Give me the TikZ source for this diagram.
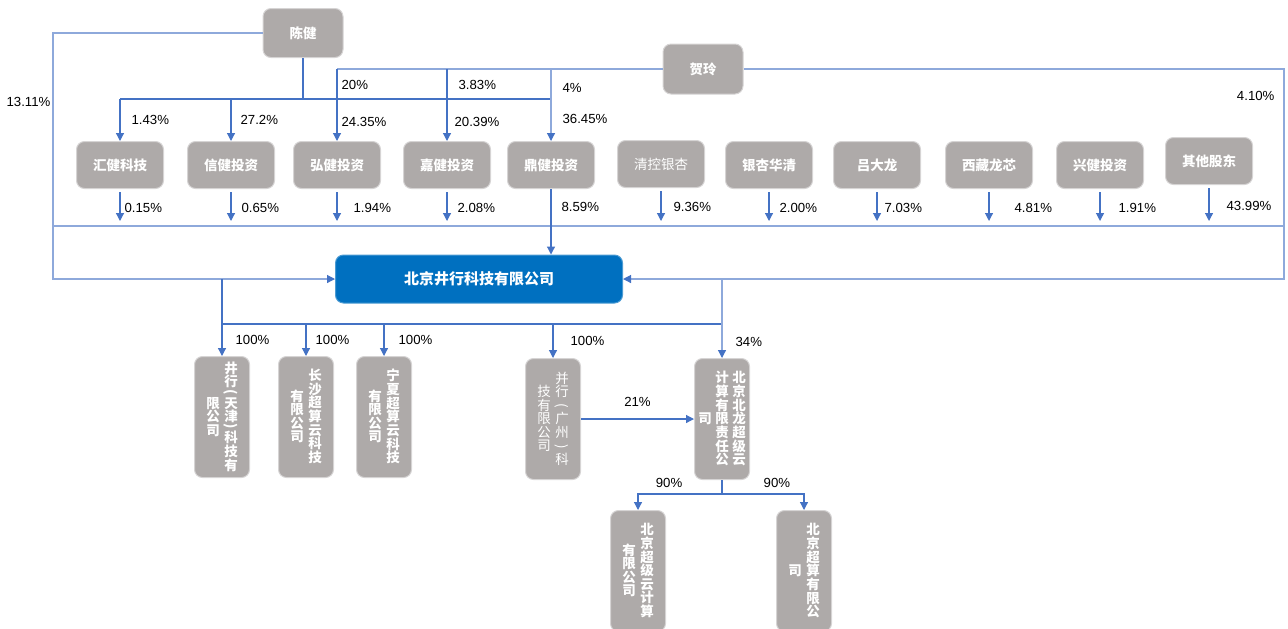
\documentclass[tikz,border=0pt]{standalone}
\usepackage{fontspec}
\usepackage{graphicx}
\setmainfont{Liberation Sans}
\newfontfamily\cjk{Noto Sans CJK SC}
\usetikzlibrary{arrows.meta}
\definecolor{boxgray}{RGB}{174,170,169}
\definecolor{edgegray}{RGB}{214,212,212}
\definecolor{mainblue}{RGB}{0,112,192}
\definecolor{linkblue}{RGB}{68,114,196}
\definecolor{frameblue}{RGB}{142,169,219}
% one column of vertical writing
\makeatletter
\def\vc@ht{5.7pt}\def\vc@dp{1.05pt}
\newcommand\vlp{\def\vc@ht{2.7pt}\def\vc@dp{0.3pt}\rotatebox[origin=c]{-90}{(}}
\newcommand\vrp{\def\vc@ht{2.7pt}\def\vc@dp{0.3pt}\rotatebox[origin=c]{-90}{)}}
\newcommand\vlpf{\rotatebox[origin=c]{-90}{(}}
\newcommand\vrpf{\rotatebox[origin=c]{-90}{)}}
\newcommand\vstack[1]{$\vcenter{\baselineskip=0pt\lineskip=0pt\lineskiplimit=0pt
  \@tfor\vc@c:=#1\do{\hbox to 7pt{\hss\vc@c\vrule height\vc@ht depth\vc@dp width0pt\hss}}}$}
\makeatother
\tikzset{
  holder/.style={fill=boxgray, draw=edgegray, line width=0.5pt, rounded corners=4pt,
    minimum width=43.5pt, minimum height=23.5pt, inner sep=0pt, text=white,
    font=\cjk\bfseries\fontsize{6.75}{8}\selectfont},
  company/.style={holder, fill=mainblue, draw=mainblue!70!white,
    minimum width=143.5pt, minimum height=24pt, font=\cjk\bfseries\fontsize{7.5}{9}\selectfont},
  sub/.style={holder, minimum width=27.5pt, minimum height=60.5pt},
  link/.style={draw=linkblue, line width=0.6pt},
  frame/.style={draw=frameblue, line width=0.6pt},
  arr/.style={link, -{Triangle[width=4pt,length=4pt,color=linkblue]}},
  farr/.style={frame, -{Triangle[width=4pt,length=4pt,color=linkblue]}},
  pct/.style={anchor=west, inner sep=0pt, text=black, font=\fontsize{6.6}{8}\selectfont}
}

\begin{document}
\begin{tikzpicture}[x=0.5pt, y=-0.5pt]
\useasboundingbox (0,0) rectangle (1288,628);
\clip (0,0) rectangle (1288,628);
% shareholders
\node[holder, minimum width=40pt, minimum height=24.5pt] (cj) at (303,33) {陈健};
\node[holder, minimum width=40pt, minimum height=25pt] (hl) at (703,69) {贺玲};
\foreach \n/\x/\t in {hj/120/汇健科技, xj/231/信健投资, hg/337/弘健投资, jj/447/嘉健投资,
    dj/551/鼎健投资, yx/769/银杏华清, ld/877/吕大龙, xz/989/西藏龙芯, xg/1100/兴健投资}
  \node[holder] (\n) at (\x,165) {\t};
\node[holder, font=\cjk\fontsize{6.75}{8}\selectfont] (qk) at (661,164) {清控银杏};
\node[holder] (qt) at (1209,161) {其他股东};
% company
\node[company] (bj) at (479,279) {北京井行科技有限公司};
% subsidiaries, columns read right to left
\node[sub] (tj) at (222,417) {\vstack{限公司}\hspace{2pt}\vstack{井行\vlp 天津\vrp 科技有}};
\node[sub] (cs) at (306,417) {\vstack{有限公司}\hspace{2pt}\vstack{长沙超算云科技}};
\node[sub] (nx) at (384,417) {\vstack{有限公司}\hspace{2pt}\vstack{宁夏超算云科技}};
\node[sub, font=\cjk\fontsize{6.75}{8}\selectfont] (gz) at (553,419)
  {\vstack{技有限公司}\hspace{2pt}\vstack{并行\vlpf 广州\vrpf 科}};
\node[sub] (bl) at (722,419)
  {\vstack{司}\hspace{1.5pt}\vstack{计算有限责任公}\hspace{1.5pt}\vstack{北京北龙超级云}};
\node[sub] (yc) at (638,571) {\vstack{有限公司}\hspace{2pt}\vstack{北京超级云计算}};
\node[sub] (csu) at (804,571) {\vstack{司}\hspace{2pt}\vstack{北京超算有限公}};

% help points
\coordinate (lft) at (53,279);
\coordinate (rgt) at (1284,279);
\coordinate (bar) at (0,226);
\coordinate (cjbus) at (303,99);
\coordinate (sbus) at (0,324);
\coordinate (blbus) at (0,494);

% frame lines
\draw[farr] (cj.west) -| node[pct, anchor=east, pos=0.64, xshift=-1pt] (p-cj) {13.11\%} (lft) -- (bj.west);
\draw[farr] (hl.east) -| node[pct, anchor=east, pos=0.565, xshift=-4.5pt] (p-hl) {4.10\%} (rgt) -- (bj.east);
\draw[frame] (hl.west) -- (hg.north |- hl.west);
\draw[link] (cj.south) -- (cjbus);
\draw[link] (hj.north |- cjbus) -- (dj.north |- cjbus);
\draw[frame] (lft |- bar) -- (rgt |- bar);

% Chen Jian's holdings
\draw[arr] (hj.north |- cjbus) -- node[pct, xshift=5.5pt] (p-hj1) {1.43\%} (hj.north);
\draw[arr] (xj.north |- cjbus) -- node[pct, xshift=4.5pt] (p-xj1) {27.2\%} (xj.north);
% joint holdings
\draw[arr] (hg.north |- hl.west) -- node[pct, pos=0.22, xshift=2pt] (p-hg1) {20\%}
  node[pct, pos=0.74, xshift=2pt] (p-hg2) {24.35\%} (hg.north);
\draw[arr] (jj.north |- hl.west) -- node[pct, pos=0.22, xshift=5.5pt] (p-jj1) {3.83\%}
  node[pct, pos=0.74, xshift=3.5pt] (p-jj2) {20.39\%} (jj.north);
\draw[farr] (dj.north |- hl.west) -- node[pct, pos=0.26, xshift=5.5pt] (p-dj1) {4\%}
  node[pct, pos=0.69, xshift=5.5pt] (p-dj2) {36.45\%} (dj.north);

% into the company
\foreach \n/\d/\p in {hj/2/0.15, xj/5/0.65, hg/8/1.94, jj/5/2.08, qk/6/9.36, yx/5/2.00,
    ld/3.5/7.03, xz/12.5/4.81, xg/9/1.91, qt/8.5/43.99}
  \draw[arr, shorten <=1.5pt, shorten >=2.5pt] (\n.south) -- node[pct, xshift=\d pt] (p-\n) {\p\%} (\n.south |- bar);
\draw[arr] (dj.south) -- node[pct, pos=0.28, xshift=5pt] (p-dj) {8.59\%} (dj.south |- bj.north);

% subsidiaries
\draw[link] (tj.north |- sbus) -- (bl.north |- sbus);
\draw[arr] (tj.north |- bj.west) -- node[pct, pos=0.79, xshift=6.5pt] (p-tj) {100\%} (tj.north);
\foreach \n/\d in {cs/4.5, nx/7, gz/8.5}
  \draw[arr] (\n.north |- sbus) -- node[pct, xshift=\d pt] (p-\n) {100\%} (\n.north);
\draw[farr] (bl.north |- bj.east) -- node[pct, pos=0.8, xshift=6.5pt] (p-bl) {34\%} (bl.north);
\draw[arr] (gz.east) -- node[pct, anchor=south, yshift=6pt] (p-gz) {21\%} (bl.west);
\draw[link] (bl.south) -- (bl.south |- blbus);
\draw[arr] (bl.south |- blbus) -| node[pct, anchor=south, pos=0.315, yshift=3pt] (p-yc) {90\%} (yc.north);
\draw[arr] (bl.south |- blbus) -| node[pct, anchor=south, pos=0.335, yshift=3pt] (p-csu) {90\%} (csu.north);
\end{tikzpicture}
\end{document}
